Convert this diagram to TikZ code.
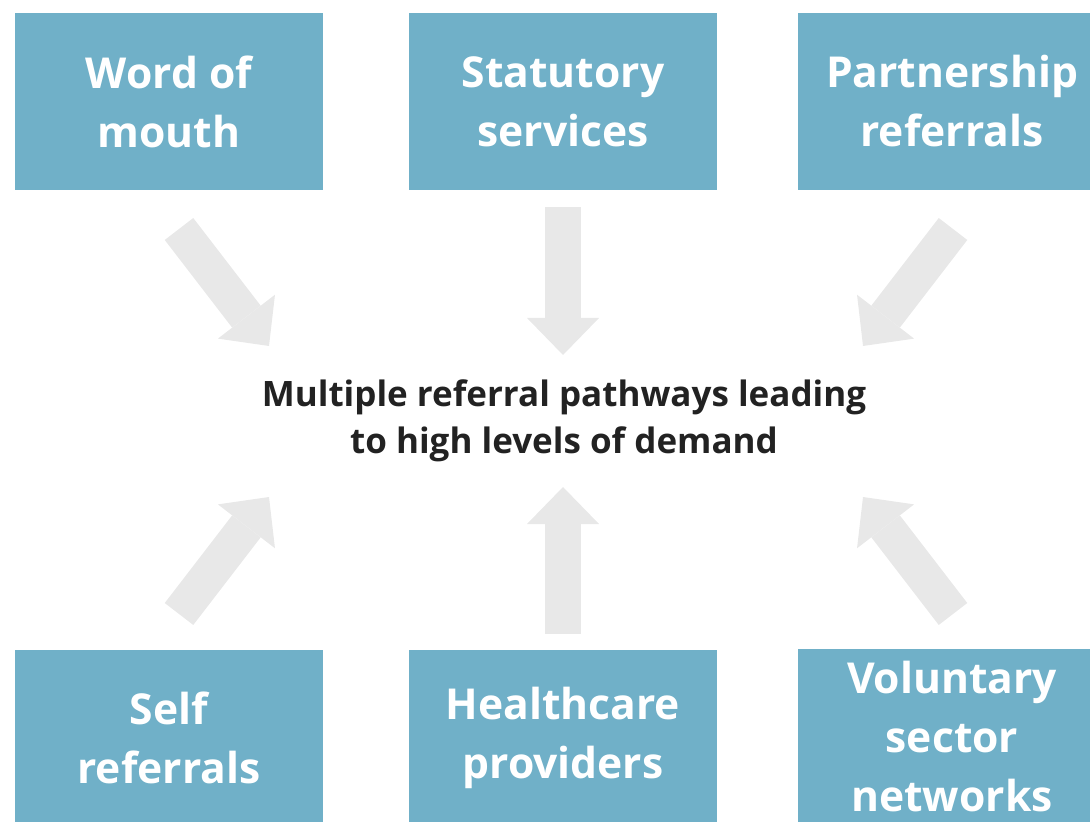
\documentclass[tikz,border=0pt]{standalone}
\usepackage{fontspec}
\setmainfont{Open Sans}
\usetikzlibrary{arrows.meta}
\definecolor{boxblue}{HTML}{70B0C8}
\definecolor{arrowgrey}{HTML}{E8E8E8}
\definecolor{textdark}{HTML}{222222}

\begin{document}
\begin{tikzpicture}[x=0.5pt, y=-0.5pt,
  source/.style = {shape=rectangle, fill=boxblue, text=white,
    align=center, inner sep=0pt,
    minimum width=154pt, minimum height=88.5pt,
    font=\bfseries\fontsize{21.3}{29.5}\selectfont},
  fatarrow/.style = {draw=arrowgrey, line width=18pt,
    -{Triangle[length=18.5pt, width=36pt, line width=0pt]}}]
  \clip (0,0) rectangle (1090,822);

  \node[text=textdark, align=center,
    font=\bfseries\fontsize{17.5}{23.5}\selectfont] (M) at (564,421)
    {Multiple referral pathways leading\\ to high levels of demand};

  \node[source] (WoM) at (169,101.5) {Word of\\ mouth};
  \node[source] (Stat) at (563,101.5) {Statutory\\ services};
  \node[source] (Part) at (952,101.5) {Partnership\\ referrals};
  \node[source] (Self) at (169,738) {Self\\ referrals};
  \node[source] (Health) at (563,738) {Healthcare\\ providers};
  \node[source] (Vol) at (952,737) {Voluntary\\ sector\\ networks};

  \coordinate (WoM-a) at (179,229);   \coordinate (WoM-b) at (269,346);
  \coordinate (Stat-a) at (563,207);  \coordinate (Stat-b) at (563,355);
  \coordinate (Part-a) at (953,229);  \coordinate (Part-b) at (863,346);
  \coordinate (Self-a) at (179,614);  \coordinate (Self-b) at (269,497);
  \coordinate (Health-a) at (563,634); \coordinate (Health-b) at (563,487);
  \coordinate (Vol-a) at (953,614);   \coordinate (Vol-b) at (863,497);

  \draw[fatarrow] (WoM-a) -- (WoM-b);
  \draw[fatarrow] (Stat-a) -- (Stat-b);
  \draw[fatarrow] (Part-a) -- (Part-b);
  \draw[fatarrow] (Self-a) -- (Self-b);
  \draw[fatarrow] (Health-a) -- (Health-b);
  \draw[fatarrow] (Vol-a) -- (Vol-b);

\end{tikzpicture}
\end{document}
